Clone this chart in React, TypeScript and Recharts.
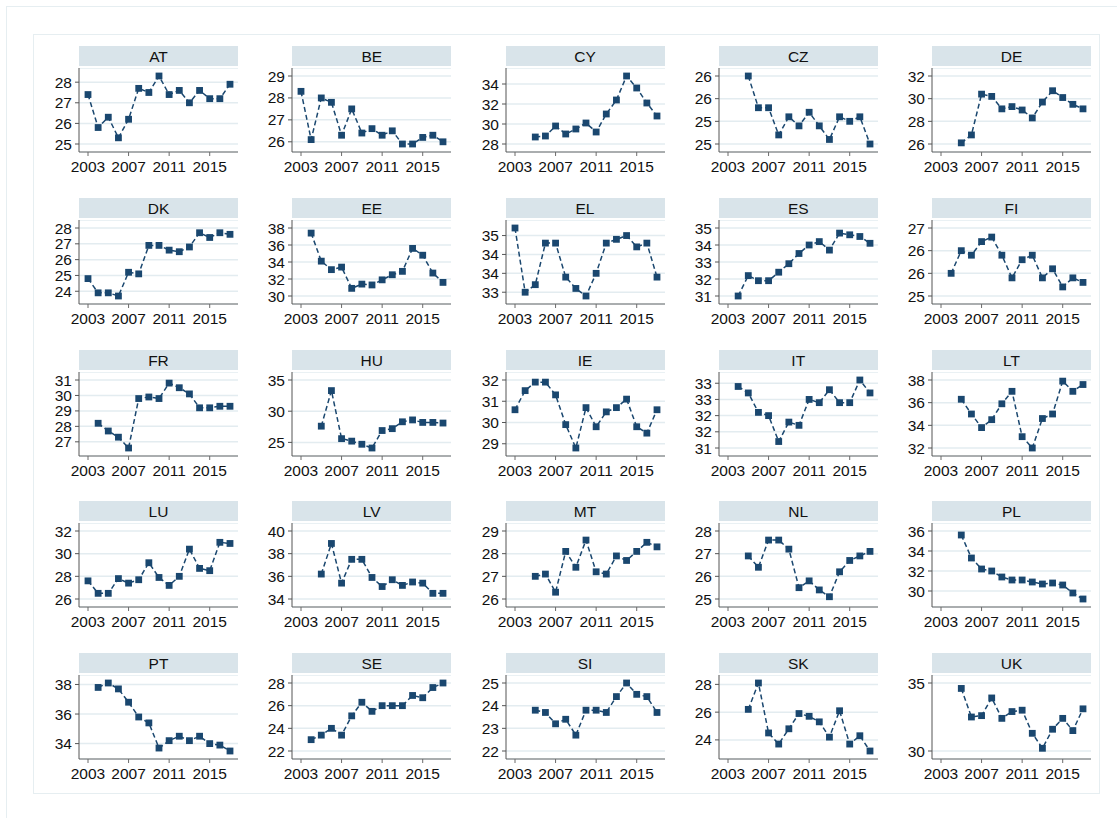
import React from 'react'
import { LineChart, Line, XAxis, YAxis, CartesianGrid } from 'recharts'

const years = [2003, 2004, 2005, 2006, 2007, 2008, 2009, 2010, 2011, 2012, 2013, 2014, 2015, 2016, 2017]
const xTicks = [2003, 2007, 2011, 2015]

const countries = ['AT', 'BE', 'CY', 'CZ', 'DE', 'DK', 'EE', 'EL', 'ES', 'FI', 'FR', 'HU', 'IE', 'IT', 'LT', 'LU', 'LV', 'MT', 'NL', 'PL', 'PT', 'SE', 'SI', 'SK', 'UK']

// one value per year, 2003..2017 (null = no observation)
const AT = [27.4, 25.8, 26.3, 25.3, 26.2, 27.7, 27.5, 28.3, 27.4, 27.6, 27.0, 27.6, 27.2, 27.2, 27.9]
const BE = [28.3, 26.1, 28.0, 27.8, 26.3, 27.5, 26.4, 26.6, 26.3, 26.5, 25.9, 25.9, 26.2, 26.3, 26.0]
const CY = [null, null, 28.7, 28.8, 29.8, 29.0, 29.5, 30.1, 29.2, 31.0, 32.4, 34.8, 33.6, 32.1, 30.8]
const CZ = [null, null, 26.0, 25.3, 25.3, 24.7, 25.1, 24.9, 25.2, 24.9, 24.6, 25.1, 25.0, 25.1, 24.5]
const DE = [null, null, 26.1, 26.8, 30.4, 30.2, 29.1, 29.3, 29.0, 28.3, 29.7, 30.7, 30.1, 29.5, 29.1]
const DK = [24.8, 23.9, 23.9, 23.7, 25.2, 25.1, 26.9, 26.9, 26.6, 26.5, 26.8, 27.7, 27.4, 27.7, 27.6]
const EE = [null, 37.4, 34.1, 33.1, 33.4, 30.9, 31.4, 31.3, 31.9, 32.5, 32.9, 35.6, 34.8, 32.7, 31.6]
const EL = [34.7, 33.0, 33.2, 34.3, 34.3, 33.4, 33.1, 32.9, 33.5, 34.3, 34.4, 34.5, 34.2, 34.3, 33.4]
const ES = [null, 31.0, 32.2, 31.9, 31.9, 32.4, 32.9, 33.5, 34.0, 34.2, 33.7, 34.7, 34.6, 34.5, 34.1]
const FI = [null, 25.5, 26.0, 25.9, 26.2, 26.3, 25.9, 25.4, 25.8, 25.9, 25.4, 25.6, 25.2, 25.4, 25.3]
const FR = [null, 28.2, 27.7, 27.3, 26.6, 29.8, 29.9, 29.8, 30.8, 30.5, 30.1, 29.2, 29.2, 29.3, 29.3]
const HU = [null, null, 27.6, 33.3, 25.6, 25.2, 24.7, 24.1, 26.9, 27.2, 28.3, 28.6, 28.2, 28.2, 28.1]
const IE = [30.6, 31.5, 31.9, 31.9, 31.3, 29.9, 28.8, 30.7, 29.8, 30.5, 30.7, 31.1, 29.8, 29.5, 30.6]
const IT = [null, 32.9, 32.7, 32.1, 32.0, 31.2, 31.8, 31.7, 32.5, 32.4, 32.8, 32.4, 32.4, 33.1, 32.7]
const LT = [null, null, 36.3, 35.0, 33.8, 34.5, 35.9, 37.0, 33.0, 32.0, 34.6, 35.0, 37.9, 37.0, 37.6]
const LU = [27.6, 26.5, 26.5, 27.8, 27.4, 27.7, 29.2, 27.9, 27.2, 28.0, 30.4, 28.7, 28.5, 31.0, 30.9]
const LV = [null, null, 36.2, 38.9, 35.4, 37.5, 37.5, 35.9, 35.1, 35.7, 35.2, 35.5, 35.4, 34.5, 34.5]
const MT = [null, null, 27.0, 27.1, 26.3, 28.1, 27.4, 28.6, 27.2, 27.1, 27.9, 27.7, 28.1, 28.5, 28.3]
const NL = [null, null, 26.9, 26.4, 27.6, 27.6, 27.2, 25.5, 25.8, 25.4, 25.1, 26.2, 26.7, 26.9, 27.1]
const PL = [null, null, 35.6, 33.3, 32.2, 32.0, 31.4, 31.1, 31.1, 30.9, 30.7, 30.8, 30.6, 29.8, 29.2]
const PT = [null, 37.8, 38.1, 37.7, 36.8, 35.8, 35.4, 33.7, 34.2, 34.5, 34.2, 34.5, 34.0, 33.9, 33.5]
const SE = [null, 23.0, 23.4, 24.0, 23.4, 25.1, 26.3, 25.5, 26.0, 26.0, 26.0, 26.9, 26.7, 27.6, 28.0]
const SI = [null, null, 23.8, 23.7, 23.2, 23.4, 22.7, 23.8, 23.8, 23.7, 24.4, 25.0, 24.5, 24.4, 23.7]
const SK = [null, null, 26.2, 28.1, 24.5, 23.7, 24.8, 25.9, 25.7, 25.3, 24.2, 26.1, 23.7, 24.3, 23.2]
const UK = [null, null, 34.6, 32.5, 32.6, 33.9, 32.4, 32.9, 33.0, 31.3, 30.2, 31.6, 32.4, 31.5, 33.1]

// y-axis ticks per panel (labels are rounded to whole numbers)
const AT_TICKS = [25, 26, 27, 28]
const BE_TICKS = [26, 27, 28, 29]
const CY_TICKS = [28, 30, 32, 34]
const CZ_TICKS = [24.5, 25, 25.5, 26]
const DE_TICKS = [26, 28, 30, 32]
const DK_TICKS = [24, 25, 26, 27, 28]
const EE_TICKS = [30, 32, 34, 36, 38]
const EL_TICKS = [33, 33.5, 34, 34.5]
const ES_TICKS = [31, 32, 33, 34, 35]
const FI_TICKS = [25, 25.5, 26, 26.5]
const FR_TICKS = [27, 28, 29, 30, 31]
const HU_TICKS = [25, 30, 35]
const IE_TICKS = [29, 30, 31, 32]
const IT_TICKS = [31, 31.5, 32, 32.5, 33]
const LT_TICKS = [32, 34, 36, 38]
const LU_TICKS = [26, 28, 30, 32]
const LV_TICKS = [34, 36, 38, 40]
const MT_TICKS = [26, 27, 28, 29]
const NL_TICKS = [25, 26, 27, 28]
const PL_TICKS = [30, 32, 34, 36]
const PT_TICKS = [34, 36, 38]
const SE_TICKS = [22, 24, 26, 28]
const SI_TICKS = [22, 23, 24, 25]
const SK_TICKS = [24, 26, 28]
const UK_TICKS = [30, 35]

const seriesList = [AT, BE, CY, CZ, DE, DK, EE, EL, ES, FI, FR, HU, IE, IT, LT, LU, LV, MT, NL, PL, PT, SE, SI, SK, UK]
const tickList = [AT_TICKS, BE_TICKS, CY_TICKS, CZ_TICKS, DE_TICKS, DK_TICKS, EE_TICKS, EL_TICKS, ES_TICKS, FI_TICKS,
  FR_TICKS, HU_TICKS, IE_TICKS, IT_TICKS, LT_TICKS, LU_TICKS, LV_TICKS, MT_TICKS, NL_TICKS, PL_TICKS,
  PT_TICKS, SE_TICKS, SI_TICKS, SK_TICKS, UK_TICKS]

const NAVY = '#1a476f'
const FONT = '"Liberation Sans", Arial, sans-serif'
const PLOT_W = 159
const PLOT_H = 84
const YAXIS_W = 45

function SquareDot(props: { cx?: number; cy?: number }) {
  const { cx, cy } = props
  if (cx == null || cy == null) return null
  return <rect x={cx - 3.4} y={cy - 3.4} width={6.8} height={6.8} fill={NAVY} />
}

function Panel({ name, values, ticks, left, top }: {
  name: string; values: (number | null)[]; ticks: number[]; left: number; top: number
}) {
  const data = years
    .map((y, i) => ({ year: y, v: values[i] }))
    .filter((d) => d.v !== null) as { year: number; v: number }[]
  const vals = data.map((d) => d.v)
  const lo = Math.min(ticks[0], ...vals)
  const hi = Math.max(ticks[ticks.length - 1], ...vals)
  const tickStyle = { fill: '#111', fontSize: 15.5, fontFamily: FONT }

  return (
    <>
      <div
        style={{
          position: 'absolute', left, top, width: PLOT_W, height: 20,
          background: '#d9e4ea', textAlign: 'center', lineHeight: '21px',
          fontSize: 15.5, fontFamily: FONT, color: '#111',
        }}
      >
        {name}
      </div>
      <div style={{ position: 'absolute', left: left - YAXIS_W, top: top + 22 }}>
        <LineChart
          width={YAXIS_W + PLOT_W + 1}
          height={PLOT_H + 30}
          data={data}
          margin={{ top: 0, right: 1, bottom: 0, left: 0 }}
        >
          <CartesianGrid vertical={false} stroke="#e3ecf0" strokeWidth={1.5} />
          <XAxis
            dataKey="year"
            type="number"
            domain={[2003, 2017]}
            ticks={xTicks}
            padding={{ left: 9, right: 8 }}
            tick={tickStyle}
            tickSize={4}
            tickMargin={5}
            height={30}
            axisLine={{ stroke: '#6b6b6b' }}
            tickLine={{ stroke: '#6b6b6b' }}
            interval={0}
          />
          <YAxis
            type="number"
            domain={[lo, hi]}
            ticks={ticks}
            padding={{ top: 8, bottom: 8 }}
            tickFormatter={(v: number) => String(Math.round(v))}
            tick={tickStyle}
            tickSize={4}
            tickMargin={3}
            width={YAXIS_W}
            axisLine={{ stroke: '#555' }}
            tickLine={{ stroke: '#555' }}
            interval={0}
          />
          <Line
            dataKey="v"
            type="linear"
            stroke={NAVY}
            strokeWidth={1.5}
            strokeDasharray="5 3"
            dot={<SquareDot />}
            activeDot={false}
            isAnimationActive={false}
          />
        </LineChart>
      </div>
    </>
  )
}

export default function App() {
  return (
    <div style={{ position: 'absolute', left: 0, top: 0, width: 1117, height: 818, background: '#fff', overflow: 'hidden' }}>
      <div style={{ position: 'absolute', left: 6, top: 6, width: 1200, height: 900, border: '1.5px solid #e6eef1' }} />
      <div style={{ position: 'absolute', left: 33, top: 34, width: 1065, height: 758, border: '1.5px solid #e6eef1' }} />
      {countries.map((name, i) => {
        const col = i % 5
        const row = Math.floor(i / 5)
        return (
          <Panel
            key={name}
            name={name}
            values={seriesList[i]}
            ticks={tickList[i]}
            left={79 + 213.25 * col}
            top={46 + 151.75 * row}
          />
        )
      })}
    </div>
  )
}
